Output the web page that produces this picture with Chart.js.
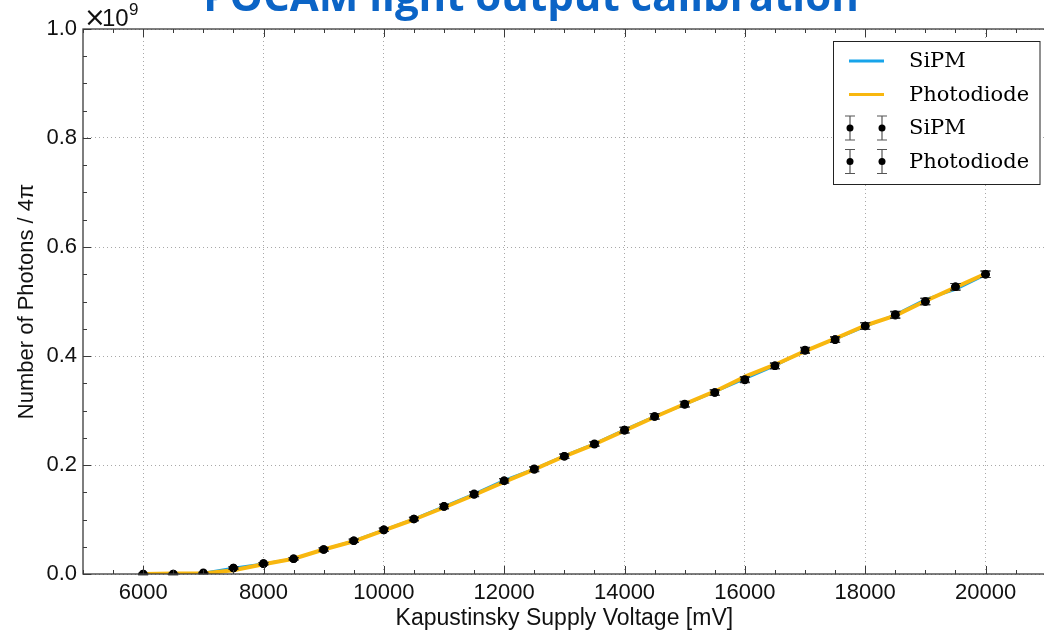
<!DOCTYPE html>
<html>
<head>
<meta charset="utf-8">
<script src="https://cdn.jsdelivr.net/npm/chart.js@4/dist/chart.umd.min.js"></script>
<style>
  html, body { margin: 0; padding: 0; background: #fff; overflow: hidden; }
  #wrap { width: 1050px; height: 635px; }
</style>
</head>
<body>
<div id="wrap"><canvas id="calib" width="1050" height="635"></canvas></div>
<script>
// supply voltage steps [mV]
const voltages = [6000, 6500, 7000, 7500, 8000, 8500, 9000, 9500, 10000, 10500,
  11000, 11500, 12000, 12500, 13000, 13500, 14000, 14500, 15000, 15500,
  16000, 16500, 17000, 17500, 18000, 18500, 19000, 19500, 20000];

// photons / 4pi, in units of 1e9
const sipmLine = [0.000, 0.000, 0.002, 0.011, 0.019, 0.028, 0.045, 0.061, 0.081, 0.101,
  0.124, 0.147, 0.172, 0.193, 0.217, 0.239, 0.265, 0.289, 0.311, 0.334,
  0.358, 0.382, 0.410, 0.431, 0.454, 0.476, 0.504, 0.522, 0.549];
const diodeLine = [0.000, 0.001, 0.001, 0.007, 0.018, 0.028, 0.045, 0.060, 0.080, 0.100,
  0.122, 0.145, 0.169, 0.192, 0.216, 0.238, 0.263, 0.288, 0.312, 0.335,
  0.362, 0.384, 0.409, 0.432, 0.456, 0.474, 0.501, 0.526, 0.551];

const sipmPts = [0.000, 0.000, 0.002, 0.011, 0.019, 0.028, 0.045, 0.061, 0.081, 0.101,
  0.124, 0.146, 0.171, 0.192, 0.216, 0.238, 0.264, 0.289, 0.311, 0.333,
  0.356, 0.382, 0.411, 0.430, 0.455, 0.475, 0.500, 0.527, 0.550];
const diodePts = [0.000, 0.000, 0.001, 0.011, 0.019, 0.028, 0.045, 0.061, 0.081, 0.101,
  0.124, 0.147, 0.171, 0.193, 0.216, 0.239, 0.264, 0.289, 0.312, 0.333,
  0.357, 0.382, 0.410, 0.430, 0.455, 0.476, 0.500, 0.527, 0.550];
const sipmErr = [0.001, 0.001, 0.001, 0.002, 0.002, 0.002, 0.003, 0.003, 0.003, 0.003,
  0.004, 0.004, 0.004, 0.004, 0.004, 0.004, 0.005, 0.005, 0.005, 0.005,
  0.005, 0.005, 0.005, 0.005, 0.006, 0.006, 0.006, 0.006, 0.006];
const diodeErr = [0.001, 0.001, 0.001, 0.002, 0.002, 0.002, 0.003, 0.003, 0.003, 0.003,
  0.004, 0.004, 0.004, 0.004, 0.004, 0.004, 0.005, 0.005, 0.005, 0.005,
  0.005, 0.005, 0.005, 0.005, 0.006, 0.006, 0.006, 0.006, 0.006];

const xTicks = [6000, 8000, 10000, 12000, 14000, 16000, 18000, 20000];
const yTicks = [0.0, 0.2, 0.4, 0.6, 0.8, 1.0];

const BLUE = '#17a4ea';
const ORANGE = '#f8b70f';
const AXIS_FONT = 'Liberation Sans';

const pairs = ys => voltages.map((v, i) => ({ x: v, y: ys[i] }));

// error bars drawn just before their point dataset
const errorBars = {
  id: 'errorBars',
  beforeDatasetDraw(chart, args) {
    const ds = chart.data.datasets[args.index];
    if (!ds.errors) return;
    const ctx = chart.ctx;
    const yScale = chart.scales.y;
    const meta = chart.getDatasetMeta(args.index);
    ctx.save();
    ctx.strokeStyle = '#333';
    ctx.lineWidth = 1.2;
    meta.data.forEach((pt, i) => {
      const v = ds.data[i].y;
      const top = yScale.getPixelForValue(v + ds.errors[i]);
      const bot = yScale.getPixelForValue(v - ds.errors[i]);
      ctx.beginPath();
      ctx.moveTo(pt.x, top); ctx.lineTo(pt.x, bot);
      ctx.moveTo(pt.x - 5, top); ctx.lineTo(pt.x + 5, top);
      ctx.moveTo(pt.x - 5, bot); ctx.lineTo(pt.x + 5, bot);
      ctx.stroke();
    });
    ctx.restore();
  }
};

// frame, inward ticks, offset label and title
const frame = {
  id: 'frame',
  afterDraw(chart) {
    const ctx = chart.ctx;
    const { left, right, top, bottom } = chart.chartArea;
    const xs = chart.scales.x, ys = chart.scales.y;
    ctx.save();
    ctx.strokeStyle = '#3a3a3a';
    ctx.lineWidth = 1.3;
    ctx.strokeRect(left, top, right - left, bottom - top);

    ctx.lineWidth = 1;
    ctx.beginPath();
    for (let v = 5000; v <= 21000; v += 500) {
      const px = Math.round(xs.getPixelForValue(v)) + 0.5;
      const len = v % 2000 === 0 ? 8 : 4;
      ctx.moveTo(px, bottom); ctx.lineTo(px, bottom - len);
      ctx.moveTo(px, top); ctx.lineTo(px, top + len);
    }
    for (let k = 0; k <= 20; k++) {
      const py = Math.round(ys.getPixelForValue(k * 0.05)) + 0.5;
      const len = k % 4 === 0 ? 8 : 4;
      ctx.moveTo(left, py); ctx.lineTo(left + len, py);
    }
    ctx.stroke();

    // scale factor of the y axis
    ctx.fillStyle = '#111';
    ctx.textBaseline = 'alphabetic';
    ctx.textAlign = 'left';
    ctx.font = '26px "DejaVu Sans"';
    ctx.fillText('\u00d7', 84, 26);
    ctx.font = '24px "' + AXIS_FONT + '"';
    ctx.fillText('10', 102, 26);
    ctx.font = '17px "' + AXIS_FONT + '"';
    ctx.fillText('9', 129, 15);

    ctx.fillStyle = '#0b64c6';
    ctx.textAlign = 'center';
    ctx.font = 'bold 42px "Open Sans"';
    ctx.fillText('POCAM light output calibration', 531, 11);
    ctx.restore();
  }
};

// legend box in the upper right corner
const legendBox = {
  id: 'legendBox',
  afterDraw(chart) {
    const ctx = chart.ctx;
    const x0 = 833.5, y0 = 41.5, w = 206.5, h = 143;
    const rowY = [61, 94.5, 128, 161.5];
    ctx.save();
    ctx.fillStyle = '#fff';
    ctx.fillRect(x0, y0, w, h);
    ctx.strokeStyle = '#222';
    ctx.lineWidth = 1;
    ctx.strokeRect(x0, y0, w, h);
    chart.data.datasets.forEach((ds, i) => {
      const y = rowY[i];
      if (ds.errors) {
        [850, 882].forEach(cx => {
          ctx.strokeStyle = '#555';
          ctx.lineWidth = 1.2;
          ctx.beginPath();
          ctx.moveTo(cx, y - 12); ctx.lineTo(cx, y + 12);
          ctx.moveTo(cx - 5, y - 12); ctx.lineTo(cx + 5, y - 12);
          ctx.moveTo(cx - 5, y + 12); ctx.lineTo(cx + 5, y + 12);
          ctx.stroke();
          ctx.fillStyle = '#000';
          ctx.beginPath();
          ctx.arc(cx, y, 3.5, 0, Math.PI * 2);
          ctx.fill();
        });
      } else {
        ctx.strokeStyle = ds.borderColor;
        ctx.lineWidth = 3;
        ctx.beginPath();
        ctx.moveTo(849, y); ctx.lineTo(884, y);
        ctx.stroke();
      }
      ctx.fillStyle = '#000';
      ctx.font = '21px "DejaVu Serif"';
      ctx.textAlign = 'left';
      ctx.textBaseline = 'middle';
      ctx.fillText(ds.label, 909, y + 1);
    });
    ctx.restore();
  }
};

new Chart(document.getElementById('calib'), {
  type: 'line',
  data: {
    datasets: [
      { label: 'SiPM', data: pairs(sipmLine), borderColor: BLUE, borderWidth: 2.5,
        pointRadius: 0, order: 3, borderJoinStyle: 'round' },
      { label: 'Photodiode', data: pairs(diodeLine), borderColor: ORANGE, borderWidth: 4,
        pointRadius: 0, order: 2, borderJoinStyle: 'round' },
      { label: 'SiPM', data: pairs(sipmPts), errors: sipmErr, showLine: false,
        pointRadius: 4.3, pointBackgroundColor: '#000', pointBorderWidth: 0, order: 1 },
      { label: 'Photodiode', data: pairs(diodePts), errors: diodeErr, showLine: false,
        pointRadius: 4.3, pointBackgroundColor: '#000', pointBorderWidth: 0, order: 0 }
    ]
  },
  options: {
    responsive: false,
    devicePixelRatio: 1,
    animation: false,
    layout: { padding: { top: 29, right: 1, left: 0, bottom: 0 } },
    plugins: { legend: { display: false }, tooltip: { enabled: false } },
    scales: {
      x: {
        type: 'linear', min: 5000, max: 21000,
        afterBuildTicks: s => { s.ticks = xTicks.map(v => ({ value: v })); },
        afterFit: s => { s.height = 61; },
        grid: { color: '#a8a8a8', lineWidth: 1, drawTicks: false },
        border: { display: false, dash: [1, 3] },
        ticks: { color: '#111', padding: 6, maxRotation: 0, autoSkip: false,
          font: { family: AXIS_FONT, size: 22 }, callback: v => String(v) },
        title: { display: true, text: 'Kapustinsky Supply Voltage [mV]', color: '#111',
          font: { family: AXIS_FONT, size: 23 }, padding: { top: 0, bottom: 3 } }
      },
      y: {
        min: 0, max: 1,
        afterBuildTicks: s => { s.ticks = yTicks.map(v => ({ value: v })); },
        afterFit: s => { s.width = 83; },
        grid: { color: '#a8a8a8', lineWidth: 1, drawTicks: false },
        border: { display: false, dash: [1, 3] },
        ticks: { color: '#111', padding: 6,
          font: { family: AXIS_FONT, size: 22 }, callback: v => v.toFixed(1) },
        title: { display: true, text: 'Number of Photons / 4\u03c0', color: '#111',
          font: { family: AXIS_FONT, size: 22 }, padding: { top: 14, bottom: 0 } }
      }
    }
  },
  plugins: [errorBars, frame, legendBox]
});
</script>
</body>
</html>
